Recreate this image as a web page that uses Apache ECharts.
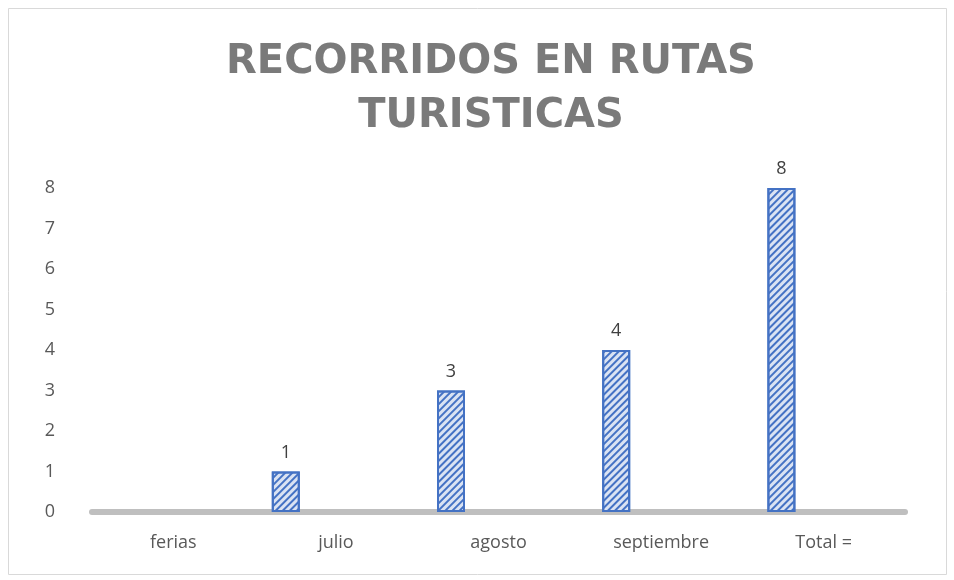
<!DOCTYPE html>
<html><head><meta charset="utf-8">
<script src="https://cdn.jsdelivr.net/npm/echarts@6/dist/echarts.min.js"></script>
<style>html,body{margin:0;padding:0;background:#fff}#c{width:954px;height:580px}</style>
</head><body><div id="c"></div>
<script>
const categories = ['ferias', 'julio', 'agosto', 'septiembre', 'Total ='];
const values = [0, 1, 3, 4, 8];
const yTicks = [0, 1, 2, 3, 4, 5, 6, 7, 8];
const titleText = 'RECORRIDOS EN RUTAS\nTURISTICAS';

const chart = echarts.init(document.getElementById('c'));
chart.setOption({
  animation: false,
  backgroundColor: '#fff',
  title: {
    text: titleText, left: 486, textAlign: 'center', top: 31,
    textStyle: { fontFamily: 'DejaVu Sans', fontWeight: 'bold', fontSize: 40, color: '#7a7a7a', lineHeight: 54 }
  },
  graphic: [{ type: 'rect', shape: { x: 8.5, y: 8.5, width: 938, height: 566 }, style: { fill: 'none', stroke: '#d9d9d9', lineWidth: 1 }, silent: true }],
  grid: [
    { left: 38, right: 954 - 864, top: 188, bottom: 68 },
    { left: 92, right: 49, top: 188, bottom: 68 }
  ],
  xAxis: [
    { type: 'category', gridIndex: 0, data: categories, show: false },
    { type: 'category', gridIndex: 1, data: categories, z: 0,
      axisLine: { show: true, lineStyle: { color: '#bfbfbf', width: 6 } },
      axisTick: { show: false },
      axisLabel: { margin: 22, fontFamily: 'Open Sans', fontSize: 18, color: '#595959' } }
  ],
  yAxis: [
    { type: 'value', gridIndex: 0, min: 0, max: 8, interval: 1,
      splitLine: { show: false }, axisLine: { show: false }, axisTick: { show: false },
      axisLabel: { margin: -12, align: 'center', fontFamily: 'Open Sans', fontSize: 18, color: '#595959',
        formatter: v => yTicks.includes(v) ? String(v) : '' } },
    { type: 'value', gridIndex: 1, min: 0, max: 8, show: false }
  ],
  series: [{
    type: 'bar', xAxisIndex: 0, yAxisIndex: 0,
    data: values.map(v => v > 0 ? v : { value: v, itemStyle: { borderWidth: 0, opacity: 0 } }),
    barWidth: 28,
    itemStyle: {
      color: '#dae3f3', borderColor: '#4472c4', borderWidth: 2,
      decal: { symbol: 'rect', symbolSize: 1, dashArrayX: [1, 0], dashArrayY: [2, 3], rotation: -Math.PI / 4, color: '#4472c4' }
    },
    label: { show: true, position: 'top', distance: 10, fontFamily: 'Open Sans', fontSize: 18, color: '#404040',
      formatter: p => p.value > 0 ? String(p.value) : '' }
  }]
});
</script></body></html>
